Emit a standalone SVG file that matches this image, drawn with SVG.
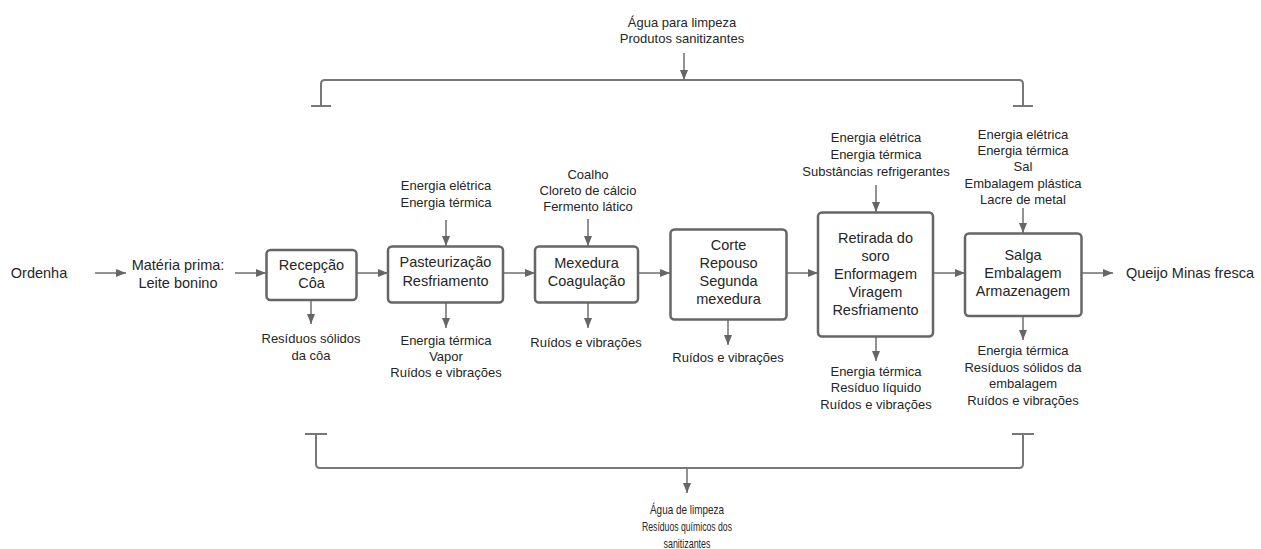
<svg xmlns="http://www.w3.org/2000/svg" width="1261" height="549" viewBox="0 0 1261 549">
  <defs>
    <marker id="arrow" viewBox="0 0 10 10" refX="10" refY="5" markerWidth="10" markerHeight="10" markerUnits="userSpaceOnUse" orient="auto">
      <path d="M0,1 L10,5 L0,9 Z" fill="#666"/>
    </marker>
    <style>
      text { font-family: "Liberation Sans", Arial, sans-serif; fill: #262626; text-anchor: middle; }
      .main { font-size: 14.5px; }
      .box-label { font-size: 14.5px; }
      .side { font-size: 13px; }
      .cond { font-size: 13.5px; }
      .box { fill: #fff; stroke: #666; stroke-width: 2.5; }
      .link { fill: none; stroke: #777; stroke-width: 2; }
      .arr { fill: none; stroke: #777; stroke-width: 1.6; marker-end: url(#arrow); }
    </style>
  </defs>
  <rect width="1261" height="549" fill="#fff"/>

  <!-- connectors -->
  <g id="connectors">
    <!-- cleaning inputs bracket (top) -->
    <path class="link" d="M321,106 V84 Q321,80 325,80 H1019 Q1023,80 1023,84 V106"/>
    <line class="link" x1="311" y1="106" x2="331" y2="106"/>
    <line class="link" x1="1013" y1="106" x2="1033" y2="106"/>
    <line class="arr" x1="684" y1="53" x2="684" y2="80"/>
    <!-- cleaning outputs bracket (bottom) -->
    <path class="link" d="M316,434 V464 Q316,468 320,468 H1019 Q1023,468 1023,464 V434"/>
    <line class="link" x1="305" y1="434" x2="327" y2="434"/>
    <line class="link" x1="1012" y1="434" x2="1034" y2="434"/>
    <line class="arr" x1="687" y1="468" x2="687" y2="493"/>

    <!-- main flow -->
    <line class="arr" x1="95" y1="273" x2="126" y2="273"/>
    <line class="arr" x1="235" y1="273" x2="266" y2="273"/>
    <line class="arr" x1="357" y1="273" x2="388" y2="273"/>
    <line class="arr" x1="503" y1="273" x2="535" y2="273"/>
    <line class="arr" x1="638" y1="273" x2="670" y2="273"/>
    <line class="arr" x1="787" y1="273" x2="818" y2="273"/>
    <line class="arr" x1="933" y1="273" x2="965" y2="273"/>
    <line class="arr" x1="1082" y1="273" x2="1113" y2="273"/>

    <!-- inputs -->
    <line class="arr" x1="446" y1="220" x2="446" y2="246"/>
    <line class="arr" x1="588" y1="219" x2="588" y2="246"/>
    <line class="arr" x1="876" y1="185" x2="876" y2="212"/>
    <line class="arr" x1="1023" y1="208" x2="1023" y2="233"/>

    <!-- outputs -->
    <line class="arr" x1="311" y1="300" x2="311" y2="324"/>
    <line class="arr" x1="446" y1="303" x2="446" y2="328"/>
    <line class="arr" x1="588" y1="303" x2="588" y2="328"/>
    <line class="arr" x1="728" y1="320" x2="728" y2="345"/>
    <line class="arr" x1="876" y1="337" x2="876" y2="361"/>
    <line class="arr" x1="1023" y1="316" x2="1023" y2="340"/>
  </g>

  <!-- free labels -->
  <g id="cleaning-in">
    <text class="side" x="682" y="27">Água para limpeza</text>
    <text class="side" x="682" y="43">Produtos sanitizantes</text>
  </g>
  <g id="cleaning-out">
    <text class="cond" x="687" y="514" textLength="74" lengthAdjust="spacingAndGlyphs">Água de limpeza</text>
    <text class="cond" x="687" y="531" textLength="90" lengthAdjust="spacingAndGlyphs">Resíduos químicos dos</text>
    <text class="cond" x="687" y="548" textLength="47" lengthAdjust="spacingAndGlyphs">sanitizantes</text>
  </g>
  <g id="ordenha">
    <text class="main" x="39" y="278">Ordenha</text>
  </g>
  <g id="materia-prima">
    <text class="main" x="178" y="270">Matéria prima:</text>
    <text class="main" x="178" y="288">Leite bonino</text>
  </g>
  <g id="produto">
    <text class="main" x="1190" y="278">Queijo Minas fresca</text>
  </g>

  <!-- process steps -->
  <g id="recepcao">
    <rect class="box" x="266.5" y="250" width="90" height="50" rx="4"/>
    <text class="box-label" x="311.5" y="270">Recepção</text>
    <text class="box-label" x="311.5" y="288">Côa</text>
    <text class="side" x="311" y="343">Resíduos sólidos</text>
    <text class="side" x="311" y="360">da côa</text>
  </g>

  <g id="pasteurizacao">
    <rect class="box" x="388" y="246.5" width="115" height="56" rx="4"/>
    <text class="box-label" x="445.5" y="267">Pasteurização</text>
    <text class="box-label" x="445.5" y="286">Resfriamento</text>
    <text class="side" x="446" y="190">Energia elétrica</text>
    <text class="side" x="446" y="207">Energia térmica</text>
    <text class="side" x="446" y="345">Energia térmica</text>
    <text class="side" x="446" y="361">Vapor</text>
    <text class="side" x="446" y="377">Ruídos e vibrações</text>
  </g>

  <g id="mexedura">
    <rect class="box" x="535" y="246.5" width="103" height="56" rx="4"/>
    <text class="box-label" x="586.5" y="268">Mexedura</text>
    <text class="box-label" x="586.5" y="286">Coagulação</text>
    <text class="side" x="588" y="179">Coalho</text>
    <text class="side" x="588" y="195">Cloreto de cálcio</text>
    <text class="side" x="588" y="211">Fermento lático</text>
    <text class="side" x="586" y="347">Ruídos e vibrações</text>
  </g>

  <g id="corte">
    <rect class="box" x="670.5" y="229.5" width="116" height="90" rx="4"/>
    <text class="box-label" x="728.5" y="250">Corte</text>
    <text class="box-label" x="728.5" y="268">Repouso</text>
    <text class="box-label" x="728.5" y="286">Segunda</text>
    <text class="box-label" x="728.5" y="304">mexedura</text>
    <text class="side" x="728" y="362">Ruídos e vibrações</text>
  </g>

  <g id="retirada-soro">
    <rect class="box" x="818" y="212.5" width="115" height="124" rx="4"/>
    <text class="box-label" x="875.5" y="243">Retirada do</text>
    <text class="box-label" x="875.5" y="261">soro</text>
    <text class="box-label" x="875.5" y="279">Enformagem</text>
    <text class="box-label" x="875.5" y="297">Viragem</text>
    <text class="box-label" x="875.5" y="315">Resfriamento</text>
    <text class="side" x="876" y="142">Energia elétrica</text>
    <text class="side" x="876" y="159">Energia térmica</text>
    <text class="side" x="876" y="176">Substâncias refrigerantes</text>
    <text class="side" x="876" y="376">Energia térmica</text>
    <text class="side" x="876" y="392">Resíduo líquido</text>
    <text class="side" x="876" y="409">Ruídos e vibrações</text>
  </g>

  <g id="salga">
    <rect class="box" x="965" y="233.5" width="116.5" height="82.5" rx="4"/>
    <text class="box-label" x="1023" y="260">Salga</text>
    <text class="box-label" x="1023" y="278">Embalagem</text>
    <text class="box-label" x="1023" y="296">Armazenagem</text>
    <text class="side" x="1023" y="139">Energia elétrica</text>
    <text class="side" x="1023" y="155">Energia térmica</text>
    <text class="side" x="1023" y="171">Sal</text>
    <text class="side" x="1023" y="188">Embalagem plástica</text>
    <text class="side" x="1023" y="204">Lacre de metal</text>
    <text class="side" x="1023" y="355">Energia térmica</text>
    <text class="side" x="1023" y="372">Resíduos sólidos da</text>
    <text class="side" x="1023" y="388">embalagem</text>
    <text class="side" x="1023" y="405">Ruídos e vibrações</text>
  </g>
</svg>
